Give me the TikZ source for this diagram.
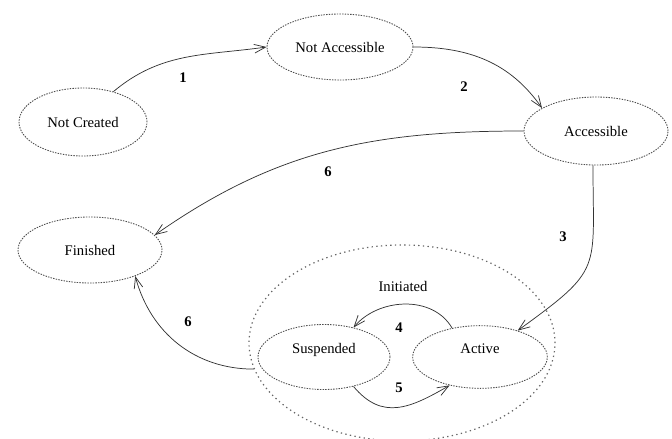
\documentclass[tikz,border=0pt]{standalone}
\usepackage{fontspec}
\setmainfont{Liberation Serif}
\usetikzlibrary{shapes.geometric,arrows.meta}

\tikzset{
	state/.style={ellipse, draw=black!70, line width=0.65pt, dash pattern=on 1.1pt off 0.9pt, inner sep=0pt, minimum width=108pt, minimum height=50pt, font=\fontsize{11}{13}\selectfont},
	group/.style={ellipse, draw=black!60, line width=0.9pt, dash pattern=on 1pt off 2.5pt, inner sep=0pt},
	trans/.style={draw=black!80, line width=0.55pt, -{Straight Barb[length=8.5pt,width=6.5pt]}},
	num/.style={font=\fontsize{11}{13}\selectfont\bfseries},
}

\begin{document}
\begin{tikzpicture}[x=0.75pt, y=-0.75pt]
			\useasboundingbox (0,0) rectangle (672,439);

			\node[state, minimum width=96pt, minimum height=51pt](nc) at (83,122){Not Created};
			\node[state, minimum width=109.5pt, minimum height=49.5pt](na) at (340,47){Not Accessible};
			\node[state, minimum height=51pt](acc) at (596,131){Accessible};
			\node[state, minimum height=49.5pt](fin) at (90,250){Finished};

			\node[group, minimum width=229.5pt, minimum height=147pt](init) at (402,343){};
			\node[font=\fontsize{11}{13}\selectfont](initlbl) at (403,286){Initiated};
			\node[state, minimum width=99pt, minimum height=48.75pt, text depth=13pt](sus) at (324,357){Suspended};
			\node[state, minimum width=101pt, minimum height=47pt, text depth=13pt](act) at (480,357){Active};

			\draw[trans] (nc.45) to[out=40, in=188] (na.west);
			\draw[trans] (na.east) to[out=0, in=125] (acc.157);
			\draw[trans] (acc.west) to[out=180, in=35] (fin.13);
			\draw[trans] (acc.265) to[out=-90, in=36, looseness=1.5] (act.35);
			\draw[trans] (init.190) to[out=180, in=-75] (fin.-30);
			\draw[trans] (act.134) to[out=120, in=50] (sus.45);
			\draw[trans] (sus.-45) to[out=-50, in=-150, looseness=1.2] (act.-137);

			\node[num](l1) at (183,78){1};
			\node[num](l2) at (464,87){2};
			\node[num](l6a) at (328,172){6};
			\node[num](l3) at (563,237){3};
			\node[num](l6b) at (188,322){6};
			\node[num](l4) at (399,328){4};
			\node[num](l5) at (399,388){5};
		\end{tikzpicture}
\end{document}
